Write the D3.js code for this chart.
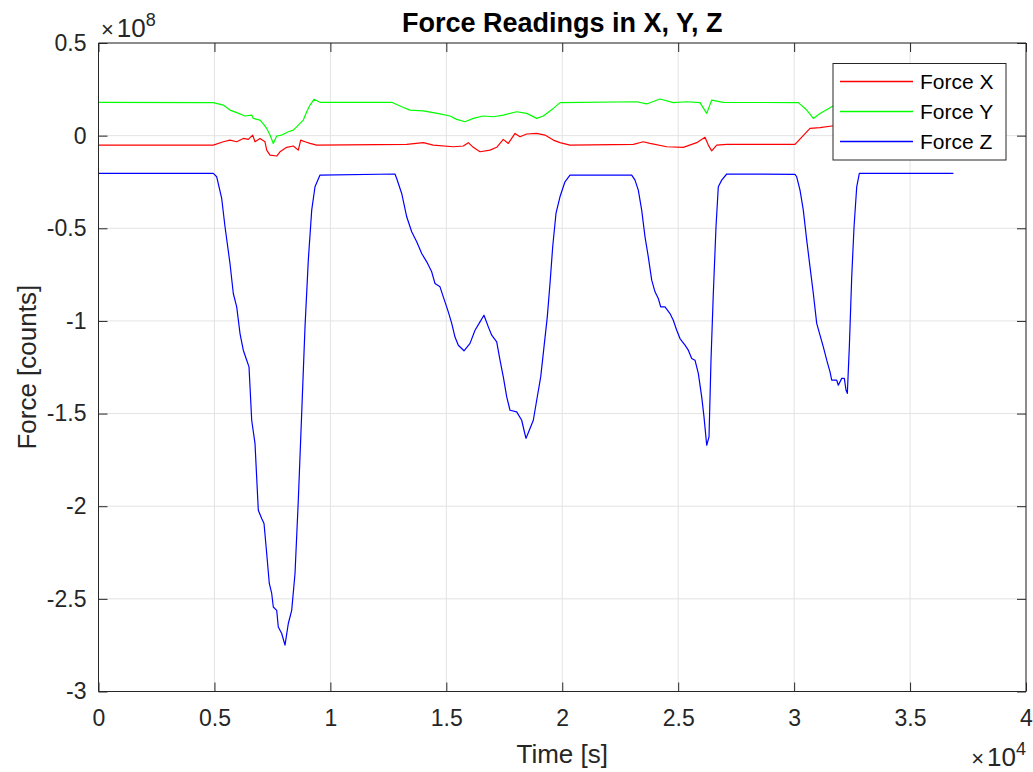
<!DOCTYPE html>
<html>
<head>
<meta charset="utf-8">
<title>Force Readings in X, Y, Z</title>
<script src="https://d3js.org/d3.v7.min.js"></script>
<style>
  body { margin: 0; background: #fff; }
  svg { display: block; font-family: "Liberation Sans", Arial, Helvetica, sans-serif; }
</style>
</head>
<body>
<svg width="1033" height="772"></svg>
<script>
// values, time in s, force in counts
const timeX = [0, 4951, 5382, 5671, 5960, 6245, 6461, 6650, 6749, 6965, 7180, 7254, 7397, 7685, 7828, 8117, 8401, 8617, 8720, 8906, 9121, 9410,
  13292, 14008, 14439, 15301, 15733, 15948, 16164, 16453, 16884, 17173, 17458, 17674, 17963, 18178, 18467, 18898, 19256, 19614, 19903, 20334,
  23065, 23496, 23785, 24505, 25221, 25799, 26157, 26299, 26446, 26661, 27093, 30038, 30685, 31116, 31621, 32300, 36868];
const forceX = [-0.051, -0.051, -0.033, -0.024, -0.033, -0.015, -0.020, 0.003, -0.033, -0.015, -0.033, -0.078, -0.105, -0.110, -0.087, -0.063, -0.056, -0.078, -0.024, -0.033, -0.042, -0.051,
  -0.047, -0.038, -0.051, -0.060, -0.056, -0.038, -0.063, -0.087, -0.078, -0.063, -0.020, -0.042, 0.012, -0.006, 0.009, 0.012, 0.003, -0.024, -0.038, -0.051,
  -0.047, -0.033, -0.042, -0.060, -0.063, -0.038, -0.009, -0.051, -0.082, -0.051, -0.047, -0.047, 0.039, 0.043, 0.052, 0.055, 0.055].map(v => v * 1e8);

const timeY = [0, 4951, 5382, 5671, 5960, 6318, 6607, 6676, 6965, 7107, 7254, 7397, 7539, 7685, 7901, 8186, 8401, 8617, 8832, 8979, 9121, 9294, 9553,
  12645, 13076, 13434, 14008, 14728, 15159, 15448, 15806, 16164, 16595, 17027, 17458, 18036, 18467, 18898, 19183, 19614, 19903,
  23211, 23642, 24216, 24790, 25367, 25941, 26230, 26446, 26946, 30181, 30543, 30828, 31116, 31621, 32100, 36868];
const forceY = [0.180, 0.178, 0.165, 0.138, 0.124, 0.106, 0.111, 0.093, 0.084, 0.063, 0.039, 0.003, -0.042, -0.002, 0.003, 0.021, 0.030, 0.057, 0.084, 0.129, 0.165, 0.196, 0.180,
  0.180, 0.156, 0.138, 0.134, 0.117, 0.106, 0.088, 0.075, 0.093, 0.106, 0.102, 0.111, 0.129, 0.120, 0.093, 0.106, 0.147, 0.178,
  0.183, 0.171, 0.198, 0.178, 0.183, 0.178, 0.120, 0.192, 0.180, 0.178, 0.138, 0.093, 0.120, 0.156, 0.185, 0.180].map(v => v * 1e8);

const timeZ = [0, 4951, 5098, 5313, 5456, 5671, 5814, 5960, 6103, 6245, 6392, 6491, 6607, 6749, 6892, 7038, 7138, 7254, 7366, 7470, 7539, 7685, 7754, 7901, 8043,
  8186, 8332, 8475, 8617, 8763, 8906, 9048, 9195, 9337, 9553,
  12787, 12860, 13076, 13292, 13507, 13723, 13939, 14155, 14370, 14512, 14728, 14870, 15086, 15233, 15375, 15517, 15763, 16022, 16238, 16453, 16625,
  16811, 16958, 17173, 17316, 17458, 17605, 17747, 18036, 18251, 18351, 18437, 18579, 18752, 18898, 19071, 19213, 19355, 19472, 19588, 19730, 19902, 20118, 20334,
  22995, 23138, 23280, 23426, 23569, 23711, 23858, 24000, 24143, 24246, 24431, 24647, 24789, 24936, 25078, 25294, 25436, 25583, 25725, 25868, 26014, 26113, 26230,
  26329, 26415, 26515, 26631, 26730, 26877, 27093,
  30038, 30111, 30254, 30396, 30543, 30685, 30828, 30974, 31116, 31259, 31406, 31548, 31621, 31837, 31906, 32053, 32165, 32239, 32295,
  32381, 32484, 32584, 32700, 32812, 36868];
const forceZ = [-0.204, -0.204, -0.222, -0.339, -0.492, -0.690, -0.852, -0.924, -1.068, -1.158, -1.212, -1.248, -1.536, -1.661, -2.022, -2.066, -2.093, -2.255, -2.417, -2.471, -2.544, -2.562, -2.652, -2.687, -2.750,
  -2.633, -2.562, -2.363, -1.968, -1.499, -1.032, -0.672, -0.402, -0.276, -0.213,
  -0.207, -0.231, -0.312, -0.438, -0.519, -0.573, -0.636, -0.681, -0.735, -0.798, -0.816, -0.870, -0.951, -1.013, -1.087, -1.131, -1.161, -1.121, -1.050, -1.005, -0.969,
  -1.032, -1.077, -1.113, -1.212, -1.302, -1.410, -1.482, -1.491, -1.536, -1.590, -1.634, -1.590, -1.536, -1.428, -1.302, -1.140, -0.978, -0.798, -0.600, -0.420, -0.330, -0.249, -0.213,
  -0.213, -0.240, -0.294, -0.402, -0.546, -0.654, -0.780, -0.843, -0.879, -0.924, -0.924, -0.960, -0.996, -1.050, -1.095, -1.131, -1.158, -1.203, -1.212, -1.283, -1.410, -1.518, -1.671,
  -1.626, -1.212, -0.852, -0.492, -0.276, -0.240, -0.207,
  -0.209, -0.222, -0.294, -0.402, -0.564, -0.708, -0.852, -1.013, -1.077, -1.140, -1.212, -1.275, -1.320, -1.320, -1.347, -1.310, -1.310, -1.374, -1.391,
  -1.140, -0.762, -0.492, -0.276, -0.204, -0.204].map(v => v * 1e8);

const seriesNames = ["Force X", "Force Y", "Force Z"];
const seriesColors = ["#ff0000", "#00ff00", "#0000ff"];
const xTicks = [0, 5000, 10000, 15000, 20000, 25000, 30000, 35000, 40000];
const yTicks = [0.5e8, 0, -0.5e8, -1e8, -1.5e8, -2e8, -2.5e8, -3e8];

const svg = d3.select("svg");
const pLeft = 98.5, pRight = 1026, pTop = 43, pBottom = 691.5;
const axisColor = "#262626";
const fmt = v => d3.format("~g")(v).replace("\u2212", "-");

const x = d3.scaleLinear().domain([0, 40000]).range([pLeft, pRight]);
const y = d3.scaleLinear().domain([-3e8, 0.5e8]).range([pBottom, pTop]);

// grid
const grid = svg.append("g").attr("stroke", "#e3e3e3").attr("stroke-width", 1);
grid.selectAll("line.gx").data(xTicks).enter().append("line")
  .attr("x1", d => x(d)).attr("x2", d => x(d)).attr("y1", pTop).attr("y2", pBottom);
grid.selectAll("line.gy").data(yTicks).enter().append("line")
  .attr("x1", pLeft).attr("x2", pRight).attr("y1", d => y(d)).attr("y2", d => y(d));

// lines
svg.append("clipPath").attr("id", "plotclip").append("rect")
  .attr("x", pLeft).attr("y", pTop).attr("width", pRight - pLeft).attr("height", pBottom - pTop);

const series = [
  { name: seriesNames[0], color: seriesColors[0], t: timeX, f: forceX },
  { name: seriesNames[1], color: seriesColors[1], t: timeY, f: forceY },
  { name: seriesNames[2], color: seriesColors[2], t: timeZ, f: forceZ }
];
const line = d3.line().x(d => x(d[0])).y(d => y(d[1]));
svg.append("g").attr("clip-path", "url(#plotclip)")
  .selectAll("path").data(series).enter().append("path")
  .attr("d", s => line(s.t.map((t, i) => [t, s.f[i]])))
  .attr("fill", "none")
  .attr("stroke", s => s.color)
  .attr("stroke-width", 1.2)
  .attr("stroke-linejoin", "round");

// axes (ticks inside, box on)
const tickLen = 9;
const xb = svg.append("g").attr("transform", `translate(0,${pBottom})`)
  .call(d3.axisBottom(x).tickValues(xTicks).tickSize(-tickLen)
    .tickFormat(d => fmt(d / 1e4)));
const xt = svg.append("g").attr("transform", `translate(0,${pTop})`)
  .call(d3.axisTop(x).tickValues(xTicks).tickSize(-tickLen).tickFormat(""));
const yl = svg.append("g").attr("transform", `translate(${pLeft},0)`)
  .call(d3.axisLeft(y).tickValues(yTicks).tickSize(-tickLen).tickPadding(12)
    .tickFormat(d => fmt(d / 1e8)));
const yr = svg.append("g").attr("transform", `translate(${pRight},0)`)
  .call(d3.axisRight(y).tickValues(yTicks).tickSize(-tickLen).tickFormat(""));

[xb, xt, yl, yr].forEach(g => {
  g.select(".domain").attr("stroke", axisColor).attr("stroke-width", 1);
  g.selectAll(".tick line").attr("stroke", axisColor).attr("stroke-width", 1);
  g.selectAll(".tick text").attr("fill", axisColor).attr("font-size", 23)
    .attr("font-family", "Liberation Sans, Arial, sans-serif");
});
xb.selectAll(".tick text").attr("dy", "0.71em").attr("y", 18);
xb.selectAll(".domain").attr("d", `M${pLeft},0H${pRight}`);
xt.selectAll(".domain").attr("d", `M${pLeft},0H${pRight}`);
yl.selectAll(".domain").attr("d", `M0,${pTop}V${pBottom}`);
yr.selectAll(".domain").attr("d", `M0,${pTop}V${pBottom}`);

// exponent labels
const yExp = svg.append("text").attr("x", 101).attr("y", 37).attr("fill", axisColor).attr("font-size", 26);
yExp.append("tspan").attr("font-size", 22).text("\u00d7");
yExp.append("tspan").attr("dx", 3).text("10");
yExp.append("tspan").attr("font-size", 18).attr("dy", -11).text("8");
const xExp = svg.append("text").attr("x", 1026).attr("y", 766).attr("fill", axisColor)
  .attr("font-size", 26).attr("text-anchor", "end");
xExp.append("tspan").attr("font-size", 22).text("\u00d7");
xExp.append("tspan").attr("dx", 3).text("10");
xExp.append("tspan").attr("font-size", 18).attr("dy", -11).text("4");

// axis labels and title
svg.append("text").attr("x", (pLeft + pRight) / 2).attr("y", 763).attr("text-anchor", "middle")
  .attr("fill", axisColor).attr("font-size", 26).text("Time [s]");
svg.append("text").attr("transform", `translate(36,${(pTop + pBottom) / 2}) rotate(-90)`)
  .attr("text-anchor", "middle").attr("fill", axisColor).attr("font-size", 26).text("Force [counts]");
svg.append("text").attr("x", (pLeft + pRight) / 2).attr("y", 32).attr("text-anchor", "middle")
  .attr("fill", "#000").attr("font-size", 27).attr("font-weight", "bold").text("Force Readings in X, Y, Z");

// legend
const lg = svg.append("g").attr("transform", "translate(833,63.5)");
lg.append("rect").attr("width", 173).attr("height", 96.5)
  .attr("fill", "#fff").attr("stroke", axisColor).attr("stroke-width", 1);
const rows = lg.selectAll("g.row").data(series).enter().append("g")
  .attr("transform", (d, i) => `translate(0,${18 + i * 30})`);
rows.append("rect").attr("x", 7).attr("y", -0.75).attr("width", 73).attr("height", 1.5)
  .attr("fill", d => d.color);
rows.append("text").attr("x", 87).attr("dy", "0.35em").attr("font-size", 21)
  .attr("fill", "#000").text(d => d.name);
</script>
</body>
</html>
